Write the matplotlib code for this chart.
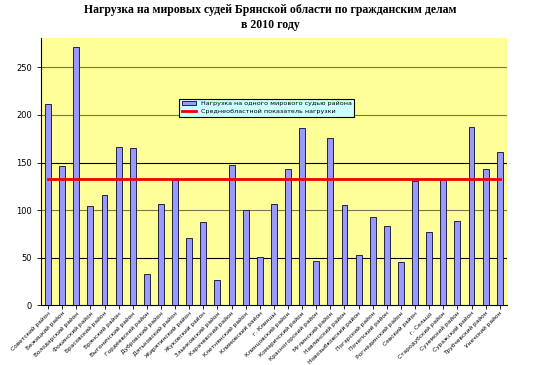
import matplotlib.pyplot as plt
import numpy as np

plt.rcParams['font.family'] = ['DejaVu Sans']

# Districts (Bryansk oblast, 2010)
districts = ['Советский район', 'Бежицкий район', 'Володарский район', 'Фокинский район',
             'Брасовский район', 'Брянский район', 'Выгоничский район', 'Гордеевский район',
             'Дубровский район', 'Дятьковский район', 'Жирятинский район', 'Жуковский район',
             'Злынковский район', 'Карачевский район', 'Клетнянский район', 'Климовский район',
             'г. Клинцы', 'Клинцовский район', 'Комаричский район', 'Красногорский район',
             'Мглинский район', 'Навлинский район', 'Новозыбковский район', 'Погарский район',
             'Почепский район', 'Рогнединский район', 'Севский район', 'г. Сельцо',
             'Стародубский район', 'Суземский район', 'Суражский район', 'Трубчевский район',
             'Унечский район']
load = [212, 146, 272, 104, 116, 166, 165, 33, 106, 132, 71, 87, 26, 147, 100, 51,
        106, 143, 186, 46, 176, 105, 53, 93, 83, 45, 131, 77, 132, 89, 187, 143, 161]
average = 132.5

fig = plt.figure(figsize=(5.41, 3.65), dpi=100)
ax = fig.add_axes([0.0758, 0.164, 0.861, 0.732])
ax.set_facecolor('#ffff99')

x = np.arange(len(districts))
bars = ax.bar(x, load, width=0.42, color='#9999ff', edgecolor='#222244', linewidth=0.7,
              label='Нагрузка на одного мирового судью района', zorder=3)
line, = ax.plot([x[0], x[-1]], [average, average], color='#ee0000', lw=2,
                label='Среднеобластной показатель нагрузки', zorder=4)

ax.set_xlim(-0.5, len(districts) - 0.5)
ax.set_ylim(0, 281)
ax.set_yticks([0, 50, 100, 150, 200, 250])
grid_colors = ['#000000', '#000000', '#77774a', '#000000', '#77774a', '#77774a']
for val, c in zip([0, 50, 100, 150, 200, 250], grid_colors):
    if val > 0:
        ax.axhline(val, color=c, lw=0.8, zorder=1)

ax.set_xticks(x)
ax.set_xticklabels(districts, rotation=45, ha='right', rotation_mode='anchor', fontsize=4.2)
ax.tick_params(axis='y', labelsize=6, length=3, width=0.6)
ax.tick_params(axis='x', length=3, width=0.6, pad=1)
for s in ['top', 'right']:
    ax.spines[s].set_visible(False)
ax.spines['left'].set_linewidth(0.8)
ax.spines['bottom'].set_linewidth(0.8)

leg = ax.legend(handles=[bars, line], loc='upper left', bbox_to_anchor=(0.29, 0.785),
                fontsize=4.6, frameon=True, fancybox=False, handlelength=2.2,
                handleheight=0.6, borderpad=0.4, labelspacing=0.35)
leg.get_frame().set_facecolor('#ccffff')
leg.get_frame().set_edgecolor('black')
leg.get_frame().set_linewidth(0.8)
leg.get_frame().set_alpha(1)

fig.text(0.5, 0.972, 'Нагрузка на мировых судей Брянской области по гражданским делам',
         ha='center', va='center', fontsize=8.5, fontweight='bold', family='Liberation Serif')
fig.text(0.5, 0.932, 'в 2010 году', ha='center', va='center', fontsize=8.5,
         fontweight='bold', family='Liberation Serif')

fig.savefig('out.png', dpi=100)
